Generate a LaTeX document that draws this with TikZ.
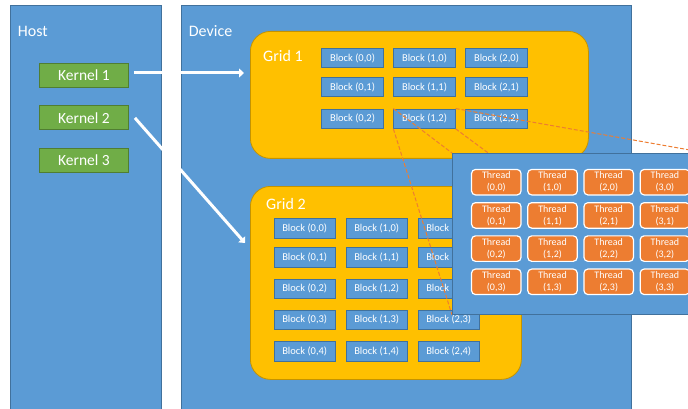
\documentclass[tikz,border=0pt]{standalone}
\usepackage{fontspec}
\setmainfont{Carlito}
\usetikzlibrary{arrows.meta, positioning}
\definecolor{boxblue}{HTML}{5B9BD5}
\definecolor{lineblue}{HTML}{41719C}
\definecolor{gridgold}{HTML}{FFC000}
\definecolor{linegold}{HTML}{C49300}
\definecolor{kgreen}{HTML}{70AD47}
\definecolor{linegreen}{HTML}{507E32}
\definecolor{torange}{HTML}{ED7D31}
\pgfdeclarelayer{front}
\pgfsetlayers{main,front}
\tikzset{
  area/.style={fill=boxblue, draw=lineblue, line width=0.8pt, inner sep=0pt, anchor=north west},
  title/.style={text=white, font=\fontsize{16}{19}\selectfont, anchor=base west, inner sep=0pt},
  kernel/.style={fill=kgreen, draw=linegreen, line width=0.8pt, text=white, minimum width=89pt,
    minimum height=24pt, inner sep=0pt, font=\fontsize{15.5}{18}\selectfont},
  gridbox/.style={fill=gridgold, draw=linegold, line width=0.8pt, rounded corners=20pt,
    inner sep=0pt, anchor=north west},
  blockbox/.style={fill=boxblue, draw=lineblue, line width=0.8pt, text=white, minimum width=61.5pt,
    minimum height=19.5pt, inner sep=0pt, font=\fontsize{10.5}{12}\selectfont},
  threadbox/.style={fill=torange, draw=white, line width=1.2pt, rounded corners=4pt, text=white,
    minimum width=49.5pt, minimum height=25.5pt, inner sep=0pt, align=center,
    font=\fontsize{10}{12}\selectfont},
  flow/.style={draw=white, line width=3pt, -{Triangle[length=5pt, width=9pt]}},
  zoomline/.style={draw=torange, line width=1pt, dash pattern=on 4pt off 2pt}
}
\begin{document}
\begin{tikzpicture}[x=1pt, y=-1pt, node distance=17.8pt]
    \useasboundingbox (0,0) rectangle (688,409);
    \clip (0,0) rectangle (688,409);
    \node[area, minimum width=151pt, minimum height=420pt] (H) at (10,5) {};
    \node[area, minimum width=450pt, minimum height=420pt] (D) at (181,5) {};
    \node[title] (Hl) at (17.7,36.5) {Host};
    \node[title] (Dl) at (188.7,36.5) {Device};
    \node[kernel] (K1) at (84,75.3) {Kernel 1};
    \node[kernel, below=of K1] (K2) {Kernel 2};
    \node[kernel, below=of K2] (K3) {Kernel 3};
    \node[gridbox, minimum width=338pt, minimum height=127pt] (G1) at (250,31) {};
    \node[gridbox, minimum width=271pt, minimum height=193pt] (G2) at (250,186) {};
    \node[title] (G1l) at (263,61.3) {Grid 1};
    \node[title] (G2l) at (266,209.3) {Grid 2};
    \foreach \i in {0,1,2}
        \foreach \j/\y in {0/58,1/87,2/118.7}
            \node[blockbox] (A-\i-\j) at (352.5+72*\i,\y) {Block (\i,\j)};
    \foreach \i in {0,1,2}
        \foreach \j/\y in {0/228.3,1/257.2,2/288.8,3/319.7,4/351.3}
            \node[blockbox] (B-\i-\j) at (304.7+72*\i,\y) {Block (\i,\j)};
    \coordinate (E1) at (244,73);
    \coordinate (E2) at (245,243);
    \draw[flow] ([shift={(5,-2.3)}]K1.east) -- (E1);
    \draw[flow] ([shift={(6,0)}]K2.east) -- (E2);
    \begin{pgfonlayer}{front}
        \clip (0,0) rectangle (688,409);
        \node[area, minimum width=254pt, minimum height=161pt] (P) at (452,153) {};
        \foreach \i in {0,...,3}
            \foreach \j in {0,...,3}
                \node[threadbox] (T-\i-\j) at (496.3+56.2*\i,182.2+33.2*\j) {Thread\\(\i,\j)};
    \end{pgfonlayer}
    \draw[zoomline] (A-1-2.north west) -- (P.north west);
    \draw[zoomline] (A-1-2.north east) -- (P.north east);
    \draw[zoomline] (A-1-2.south west) -- (P.south west);
    \draw[zoomline] (A-1-2.south east) -- (P.south east);
\end{tikzpicture}
\end{document}
